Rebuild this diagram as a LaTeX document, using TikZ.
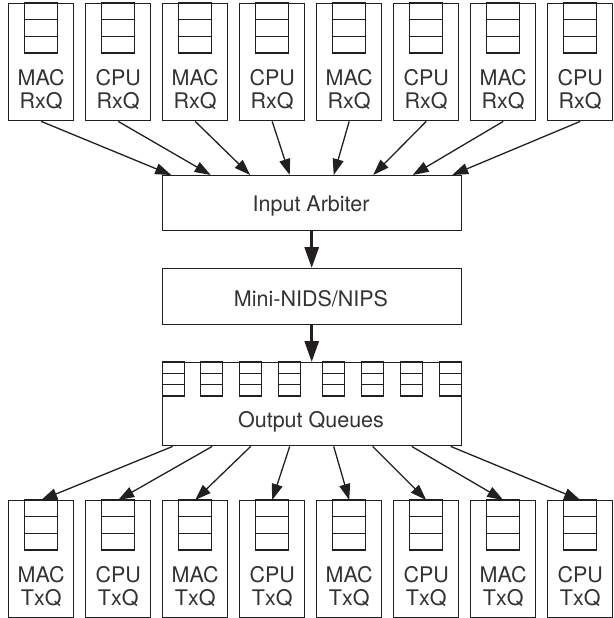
\documentclass[tikz,border=0pt]{standalone}
\usepackage{fontspec}
\setmainfont{TeX Gyre Heros}
\usetikzlibrary{arrows.meta,calc}
\definecolor{ink}{HTML}{231F20}
\definecolor{txt}{HTML}{333333}
\begin{document}
\begin{tikzpicture}[x=1pt,y=-1pt,
  box/.style={draw=ink,line width=1.4pt,inner sep=0pt,anchor=north west},
  lab/.style={font=\fontsize{21.5}{23}\selectfont,text=txt,anchor=base,inner sep=0pt},
  arr/.style={draw=ink,line width=1.3pt,-{Triangle[length=16pt,width=11pt]}},
  bigarr/.style={draw=ink,line width=3pt,-{Triangle[length=21pt,width=14pt]}},
  cell/.style={draw=ink,line width=1.4pt}]
\useasboundingbox (0,0) rectangle (613,618);
% top receive queues
\foreach \i/\t in {0/MAC,1/CPU,2/MAC,3/CPU,4/MAC,5/CPU,6/MAC,7/CPU}{
  \node[box,minimum width=65pt,minimum height=117pt] (r\i) at (8+77*\i,3) {};
  \draw[cell] ($(r\i.north)+(-16.5,0)$) rectangle ++(33,50);
  \draw[cell] ($(r\i.north)+(-16.5,16.7)$) -- ++(33,0);
  \draw[cell] ($(r\i.north)+(-16.5,33.3)$) -- ++(33,0);
  \node[lab] (r\i a) at ($(r\i.north)+(0,82)$) {\t};
  \node[lab] (r\i b) at ($(r\i.north)+(0,105)$) {RxQ};
}
% bottom transmit queues
\foreach \i/\t in {0/MAC,1/CPU,2/MAC,3/CPU,4/MAC,5/CPU,6/MAC,7/CPU}{
  \node[box,minimum width=65pt,minimum height=117pt] (t\i) at (8+77*\i,500) {};
  \draw[cell] ($(t\i.north)+(-16.5,0)$) rectangle ++(33,50);
  \draw[cell] ($(t\i.north)+(-16.5,16.7)$) -- ++(33,0);
  \draw[cell] ($(t\i.north)+(-16.5,33.3)$) -- ++(33,0);
  \node[lab] (t\i a) at ($(t\i.north)+(0,82)$) {\t};
  \node[lab] (t\i b) at ($(t\i.north)+(0,105)$) {TxQ};
}
% central blocks
\node[box,minimum width=299pt,minimum height=55pt] (arb) at (161.5,175) {};
\node[lab] (arbt) at (311,211.5) {Input Arbiter};
\node[box,minimum width=299pt,minimum height=56pt] (mini) at (161.5,268) {};
\node[lab] (minit) at (311,306.5) {Mini-NIDS/NIPS};
\node[box,minimum width=299pt,minimum height=83pt] (oq) at (161.5,362) {};
\node[lab] (oqt) at (311,427) {Output Queues};
% small output queues
\foreach \o in {-138.5,-100,-61,-22,22,61,100,138.5}{
  \draw[cell] ($(oq.north)+(\o-11,0)$) rectangle ++(22,34);
  \draw[cell] ($(oq.north)+(\o-11,11.3)$) -- ++(22,0);
  \draw[cell] ($(oq.north)+(\o-11,22.7)$) -- ++(22,0);
}
% arrows into the arbiter
\foreach \i/\o in {0/-140.5,1/-101,2/-61.5,3/-22,4/22,5/61.5,6/101,7/140.5}{
  \draw[arr] (r\i.south) -- ($(arb.north)+(\o,0)$);
}
% arrows out of the output queues
\foreach \i/\o in {0/-139,1/-99.5,2/-61,3/-22,4/22,5/61,6/100,7/139}{
  \draw[arr] ($(oq.south)+(\o,0)$) -- (t\i.north);
}
\draw[bigarr] (arb.south) -- (mini.north);
\draw[bigarr] (mini.south) -- (oq.north);
\end{tikzpicture}
\end{document}
